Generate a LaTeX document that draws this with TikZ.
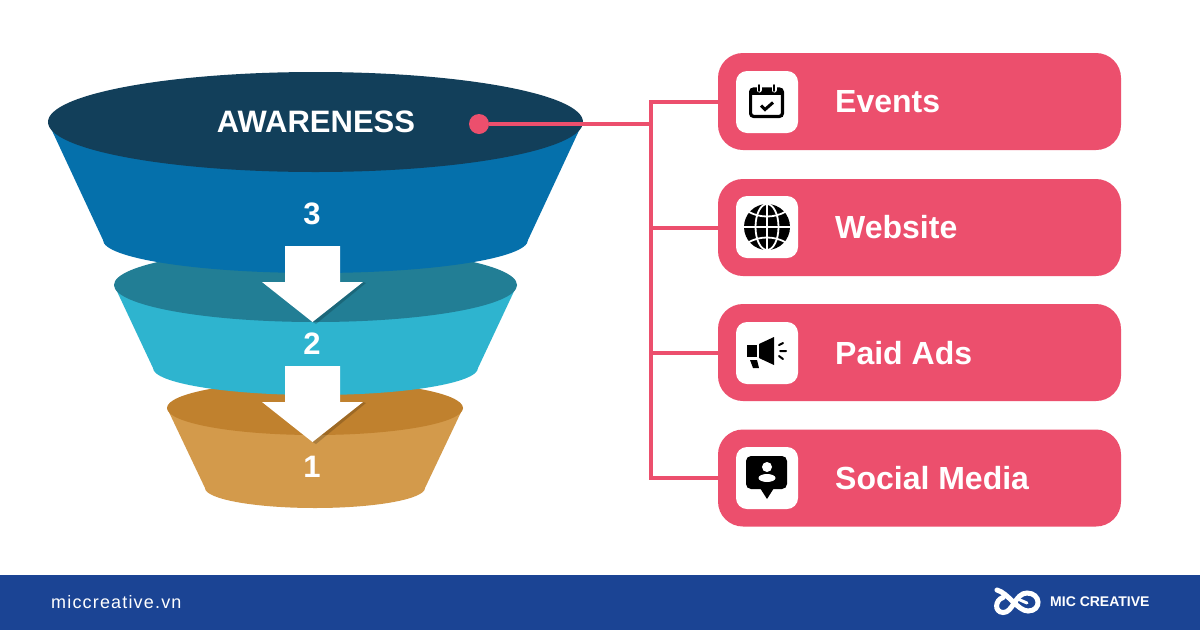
\documentclass[tikz,border=0pt]{standalone}
\usepackage{fontspec}
\setmainfont{Liberation Sans}
\usetikzlibrary{positioning}

\definecolor{micpink}{HTML}{EC4F6D}
\definecolor{micnavy}{HTML}{1B4494}
\definecolor{topdark}{HTML}{123F5A}
\definecolor{topbody}{HTML}{0570AB}
\definecolor{middark}{HTML}{227E95}
\definecolor{midbody}{HTML}{2EB4CF}
\definecolor{lowdark}{HTML}{C0812E}
\definecolor{lowbody}{HTML}{D39A4B}

\tikzset{
    channel/.style={fill=micpink, rounded corners=25pt, minimum width=403pt, minimum height=97pt, inner sep=0pt},
    iconbox/.style={fill=white, rounded corners=11pt, minimum width=62pt, minimum height=62pt, inner sep=0pt},
    channeltext/.style={anchor=west, inner sep=0pt, text=white, font=\bfseries\fontsize{32}{36}\selectfont},
    stagetext/.style={inner sep=0pt, text=white, font=\bfseries\fontsize{31}{36}\selectfont},
    link/.style={draw=micpink, line width=4pt},
    blockarrow/.style={fill=white},
    arrowshade/.style={fill=black, opacity=.18}
}

\begin{document}
\begin{tikzpicture}[x=1pt, y=-1pt]
\useasboundingbox (0,0) rectangle (1200,630);
\fill[white] (0,0) rectangle (1200,630);
\fill[micnavy] (0,575) rectangle (1200,630);

\fill[lowbody] (167,408) -- (205,488) arc[start angle=180, end angle=0, x radius=110, y radius=20] -- (463,408) -- cycle;
\fill[lowdark] (315,408) ellipse[x radius=148, y radius=27];

\fill[midbody] (114,285) -- (153,368) arc[start angle=180, end angle=0, x radius=162.5, y radius=27] -- (517,285) -- cycle;
\fill[middark] (315.5,285) ellipse[x radius=201.5, y radius=37];

\fill[topbody] (48,122) -- (103,240) arc[start angle=180, end angle=0, x radius=212.5, y radius=33] -- (583,122) -- cycle;
\fill[topdark] (315.5,122) ellipse[x radius=267.5, y radius=50];

\fill[arrowshade] (312.5,322) -- (363,282) -- (366,283) -- (316,324) -- cycle;
\fill[arrowshade] (312.5,442) -- (363,402) -- (366,403) -- (316,444) -- cycle;
\fill[blockarrow] (285,246) -- (340,246) -- (340,282) -- (363,282) -- (312.5,322) -- (262,282) -- (285,282) -- cycle;
\fill[blockarrow] (285,366) -- (340,366) -- (340,402) -- (363,402) -- (312.5,442) -- (262,402) -- (285,402) -- cycle;

\node[inner sep=0pt, text=white, font=\bfseries\fontsize{31}{36}\selectfont] (awareness) at (316,122) {AWARENESS};
\node[stagetext] (three) at (312,214) {3};
\node[stagetext] (two) at (312,344) {2};
\node[stagetext] (one) at (312,467) {1};

\node[channel] (events) at (919.5,101.5) {};
\node[channel] (website) at (919.5,227.5) {};
\node[channel] (paidads) at (919.5,352.5) {};
\node[channel] (social) at (919.5,478) {};

\node[circle, fill=micpink, minimum size=20pt, inner sep=0pt] (dot) at (479,124) {};
\coordinate (junction) at (651,124);

\draw[link] (dot) -- (junction);
\draw[link] (events.west) -- (events.west -| junction) -- (social.west -| junction) -- (social.west);
\draw[link] (website.west) -- (website.west -| junction);
\draw[link] (paidads.west) -- (paidads.west -| junction);

\node[iconbox] (eventsicon) at (767,102) {};
\node[iconbox] (websiteicon) at (767,227) {};
\node[iconbox] (paidadsicon) at (767,353) {};
\node[iconbox] (socialicon) at (767,478) {};

\node[channeltext] (eventstext) at (835,102) {Events};
\node[channeltext] (websitetext) at (835,227) {Website};
\node[channeltext] (paidadstext) at (835,353) {Paid Ads};
\node[channeltext] (socialtext) at (835,478) {Social Media};

\draw[line width=3.2pt, rounded corners=3pt] (750.6,89) rectangle (782.4,116.4);
\fill (750.6,89) rectangle (782.4,95);
\draw[white, line width=5pt, line cap=round] (759,86) -- (759,90) (774,86) -- (774,90);
\draw[line width=1.8pt, line cap=round] (759,85) -- (759,91) (774,85) -- (774,91);
\draw[line width=3pt] (761,105.5) -- (765,109.5) -- (773,102.5);

\fill (767,227) circle[radius=23];
\draw[white, line width=1.8pt] (767,227) ellipse[x radius=11.5, y radius=23];
\draw[white, line width=1.8pt] (767,204) -- (767,250) (744,227) -- (790,227);
\draw[white, line width=1.8pt] (749,212) .. controls (760,218) and (774,218) .. (785,212);
\draw[white, line width=1.8pt] (749,242) .. controls (760,236) and (774,236) .. (785,242);

\fill (747,345) rectangle (757,357);
\fill (759,344) -- (774,337) -- (774,365) -- (759,358) -- cycle;
\fill (750,360) -- (757,360) -- (759,368) -- (753,368) -- cycle;
\draw[line width=2pt, line cap=round] (779,345) -- (783,343) (780,351) -- (786,351) (779,356) -- (783,359);

\fill[rounded corners=5pt] (746,456) rectangle (787,489);
\fill (760,488) -- (774,488) -- (767,499) -- cycle;
\fill[white] (767,467) circle[radius=5];
\fill[white] (767,478) ellipse[x radius=8.5, y radius=4];

\node[anchor=west, inner sep=0pt, text=white, font=\fontsize{18}{20}\selectfont\addfontfeature{LetterSpace=6.5}] (site) at (51,602) {miccreative.vn};
\node[anchor=west, inner sep=0pt, text=white, font=\bfseries\fontsize{14}{18}\selectfont] (brand) at (1050,602) {MIC CREATIVE};

\draw[white, line width=5pt, line cap=round] (997,590) .. controls (1008,593) and (1018,611) .. (1028,611) .. controls (1042,611) and (1041,593) .. (1027,593) .. controls (1015,593) and (1013,613) .. (1003,612.5) .. controls (994,612) and (995,600) .. (1003,597.5);
\draw[white, line width=3pt, line cap=round] (1027,603) -- (1020,600);
\end{tikzpicture}
\end{document}
